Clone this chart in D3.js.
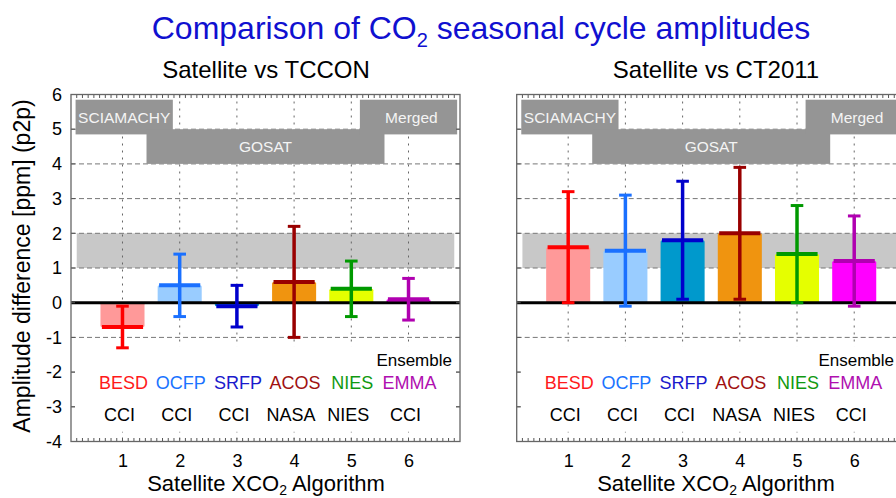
<!DOCTYPE html>
<html>
<head>
<meta charset="utf-8">
<script src="https://cdn.jsdelivr.net/npm/d3@7"></script>
<style>
  html, body { margin: 0; padding: 0; background: #fff; }
  svg { display: block; }
  text { font-family: "Liberation Sans", Arial, Helvetica, sans-serif; }
</style>
</head>
<body>
<svg id="chart" width="896" height="498"></svg>
<script>
// ---------------- data ----------------
const algorithmIds = [1, 2, 3, 4, 5, 6];
const algorithms = ["BESD", "OCFP", "SRFP", "ACOS", "NIES", "EMMA"];
const providers = ["CCI", "CCI", "CCI", "NASA", "NIES", "CCI"];
const xTickLabels = ["1", "2", "3", "4", "5", "6"];
const yTickValues = [-4, -3, -2, -1, 0, 1, 2, 3, 4, 5, 6];

// Satellite vs TCCON : mean amplitude difference and error bar limits (ppm)
const tcconMean = [-0.7, 0.5, -0.1, 0.6, 0.4, 0.1];
const tcconLow  = [-1.3, -0.4, -0.7, -1.0, -0.4, -0.5];
const tcconHigh = [-0.1, 1.4, 0.5, 2.2, 1.2, 0.7];

// Satellite vs CT2011
const ctMean = [1.6, 1.5, 1.8, 2.0, 1.4, 1.2];
const ctLow  = [0.0, -0.1, 0.1, 0.1, 0.0, -0.1];
const ctHigh = [3.2, 3.1, 3.5, 3.9, 2.8, 2.5];

// sensor groups (x extent in algorithm units, y extent in ppm)
const sensorNames  = ["SCIAMACHY", "GOSAT", "Merged"];
const sensorX0     = [0.18, 1.42, 5.15];
const sensorX1     = [1.88, 5.58, 6.85];
const sensorY0     = [4.85, 4.0, 4.85];
const sensorY1     = [5.85, 5.0, 5.85];
const sensorLabelX = [1.03, 3.5, 6.05];

// reference band of expected amplitude difference
const bandLow = 1, bandHigh = 2;

// ---------------- styles ----------------
const barFill   = ["#ff9999", "#99ccff", "#0099cc", "#f0940f", "#e5ff00", "#ff00ff"];
const lineColor = ["#ff0000", "#1a70ff", "#0000cc", "#990000", "#009900", "#b000b0"];
const nameColor = ["#ff1a1a", "#1a73ff", "#1a1acc", "#a01010", "#119911", "#b010b0"];

const svg = d3.select("#chart");

// Title
const title = svg.append("text")
  .attr("x", 481).attr("y", 39)
  .attr("text-anchor", "middle")
  .attr("fill", "#1010d0")
  .attr("font-size", 32);
title.append("tspan").text("Comparison of CO");
title.append("tspan").attr("font-size", 20).attr("dy", 8).text("2");
title.append("tspan").attr("dy", -8).text(" seasonal cycle amplitudes");

const yScale = d3.scaleLinear().domain([-4, 6]).range([441.5, 94.5]);

function drawPanel(opts) {
  const x = d3.scaleLinear().domain([0.1, 6.9]).range([opts.left, opts.left + 389]);
  const y = yScale;
  const g = svg.append("g");
  const xl = x.range()[0], xr = x.range()[1];
  const yt = y.range()[1], yb = y.range()[0];

  // subtitle
  g.append("text")
    .attr("x", opts.subX).attr("y", 78)
    .attr("text-anchor", "middle")
    .attr("font-size", 24)
    .attr("fill", "#000")
    .text(opts.subtitle);

  // reference band
  g.append("rect")
    .attr("x", x(0.2)).attr("width", x(6.8) - x(0.2))
    .attr("y", y(bandHigh)).attr("height", y(bandLow) - y(bandHigh))
    .attr("fill", "#c8c8c8");

  // horizontal grid
  g.append("g").selectAll("line")
    .data(yTickValues.filter(v => v > -4 && v < 6 && v !== 0))
    .join("line")
    .attr("x1", xl).attr("x2", xr)
    .attr("y1", d => y(d)).attr("y2", d => y(d))
    .attr("stroke", "#777").attr("stroke-width", 1)
    .attr("stroke-dasharray", "5,3");

  // vertical grid
  g.append("g").selectAll("line")
    .data(algorithmIds)
    .join("line")
    .attr("x1", d => x(d)).attr("x2", d => x(d))
    .attr("y1", yt).attr("y2", yb)
    .attr("stroke", "#666").attr("stroke-width", 1)
    .attr("stroke-dasharray", "2,5");

  // white panel behind labels
  g.append("rect")
    .attr("x", x(0.17)).attr("width", x(6.83) - x(0.17))
    .attr("y", y(-1.25)).attr("height", y(-3.72) - y(-1.25))
    .attr("fill", "#fff");

  // sensor boxes
  const sb = g.append("g");
  sensorNames.forEach((s, i) => {
    sb.append("rect")
      .attr("x", x(sensorX0[i])).attr("width", x(sensorX1[i]) - x(sensorX0[i]))
      .attr("y", y(sensorY1[i])).attr("height", y(sensorY0[i]) - y(sensorY1[i]))
      .attr("fill", "#959595");
  });
  sensorNames.forEach((s, i) => {
    sb.append("text")
      .attr("x", x(sensorLabelX[i]))
      .attr("y", (y(sensorY0[i]) + y(sensorY1[i])) / 2 + 5.5)
      .attr("text-anchor", "middle")
      .attr("font-size", 15.5)
      .attr("fill", "#f4f4f4")
      .text(s);
  });

  // bars
  const bw = 0.77;
  g.append("g").selectAll("rect")
    .data(algorithmIds)
    .join("rect")
    .attr("x", d => x(d - bw / 2))
    .attr("width", x(bw) - x(0))
    .attr("y", (d, i) => y(Math.max(0, opts.mean[i])))
    .attr("height", (d, i) => Math.abs(y(opts.mean[i]) - y(0)))
    .attr("rx", 1.5)
    .attr("fill", (d, i) => barFill[i]);

  // zero line
  g.append("line")
    .attr("x1", xl).attr("x2", xr)
    .attr("y1", y(0)).attr("y2", y(0))
    .attr("stroke", "#000").attr("stroke-width", 3);

  // error bars
  const eb = g.append("g");
  algorithmIds.forEach((d, i) => {
    const c = lineColor[i];
    eb.append("line")
      .attr("x1", x(d)).attr("x2", x(d))
      .attr("y1", y(opts.low[i])).attr("y2", y(opts.high[i]))
      .attr("stroke", c).attr("stroke-width", 3.5);
    [opts.low[i], opts.high[i]].forEach(v => {
      eb.append("line")
        .attr("x1", x(d - 0.11)).attr("x2", x(d + 0.11))
        .attr("y1", y(v)).attr("y2", y(v))
        .attr("stroke", c).attr("stroke-width", 3);
    });
    eb.append("line")
      .attr("x1", x(d - 0.36)).attr("x2", x(d + 0.36))
      .attr("y1", y(opts.mean[i])).attr("y2", y(opts.mean[i]))
      .attr("stroke", c).attr("stroke-width", 4);
  });

  // labels inside
  g.append("text")
    .attr("x", Math.min(x(6.76), 894)).attr("y", y(-1.82))
    .attr("text-anchor", "end")
    .attr("font-size", 17)
    .text("Ensemble");
  g.append("g").selectAll("text")
    .data(algorithms)
    .join("text")
    .attr("x", (d, i) => x(algorithmIds[i]) + 1)
    .attr("y", y(-2.5))
    .attr("text-anchor", "middle")
    .attr("font-size", 18)
    .attr("fill", (d, i) => nameColor[i])
    .text(d => d);
  g.append("g").selectAll("text")
    .data(providers)
    .join("text")
    .attr("x", (d, i) => x(algorithmIds[i]) - 3)
    .attr("y", y(-3.41))
    .attr("text-anchor", "middle")
    .attr("font-size", 18)
    .attr("fill", "#000")
    .text(d => d);

  // axes (inward ticks, mirrored)
  const minor = d3.range(2, 69).map(k => k / 10);
  const bottomAx = d3.axisBottom(x).tickValues(algorithmIds).tickSize(0).tickPadding(13)
    .tickFormat((d, i) => xTickLabels[i]);
  const axB = g.append("g").attr("transform", `translate(0,${yb})`).call(bottomAx);
  axB.select(".domain").remove();
  axB.selectAll("text").attr("font-size", 18).attr("font-family", "Liberation Sans, Arial, sans-serif").attr("fill", "#000");

  const tickG = g.append("g").attr("stroke", "#555").attr("stroke-width", 1);
  tickG.selectAll("line.mb").data(minor).join("line").attr("class", "mb")
    .attr("x1", d => x(d)).attr("x2", d => x(d))
    .attr("y1", yb).attr("y2", yb - 3.5);
  tickG.selectAll("line.mt").data(minor).join("line").attr("class", "mt")
    .attr("x1", d => x(d)).attr("x2", d => x(d))
    .attr("y1", yt).attr("y2", yt + 3.5);
  tickG.selectAll("line.ml").data(yTickValues).join("line").attr("class", "ml")
    .attr("x1", xl).attr("x2", xl + 4)
    .attr("y1", d => y(d)).attr("y2", d => y(d));
  tickG.selectAll("line.mr").data(yTickValues).join("line").attr("class", "mr")
    .attr("x1", xr).attr("x2", xr - 4)
    .attr("y1", d => y(d)).attr("y2", d => y(d));

  if (opts.yLabels) {
    const leftAx = d3.axisLeft(y).tickValues(yTickValues).tickSize(0).tickPadding(9)
      .tickFormat(d => String(d));
    const axL = g.append("g").attr("transform", `translate(${xl},0)`).call(leftAx);
    axL.select(".domain").remove();
    axL.selectAll("text").attr("font-size", 18).attr("font-family", "Liberation Sans, Arial, sans-serif").attr("fill", "#000");
  }

  // frame
  g.append("rect")
    .attr("x", xl).attr("y", yt)
    .attr("width", xr - xl).attr("height", yb - yt)
    .attr("fill", "none").attr("stroke", "#666").attr("stroke-width", 1.3);

  // x axis title
  const xt = g.append("text")
    .attr("x", opts.subX).attr("y", 491)
    .attr("text-anchor", "middle")
    .attr("font-size", 22);
  xt.append("tspan").text("Satellite XCO");
  xt.append("tspan").attr("font-size", 14).attr("dy", 4).text("2");
  xt.append("tspan").attr("dy", -4).text(" Algorithm");
}

drawPanel({ left: 71, subX: 266, subtitle: "Satellite vs TCCON",
  mean: tcconMean, low: tcconLow, high: tcconHigh, yLabels: true });
drawPanel({ left: 516.7, subX: 716, subtitle: "Satellite vs CT2011",
  mean: ctMean, low: ctLow, high: ctHigh, yLabels: false });

// y axis title
svg.append("text")
  .attr("transform", "translate(30,266) rotate(-90)")
  .attr("text-anchor", "middle")
  .attr("font-size", 23)
  .text("Amplitude difference [ppm] (p2p)");
</script>
</body>
</html>
